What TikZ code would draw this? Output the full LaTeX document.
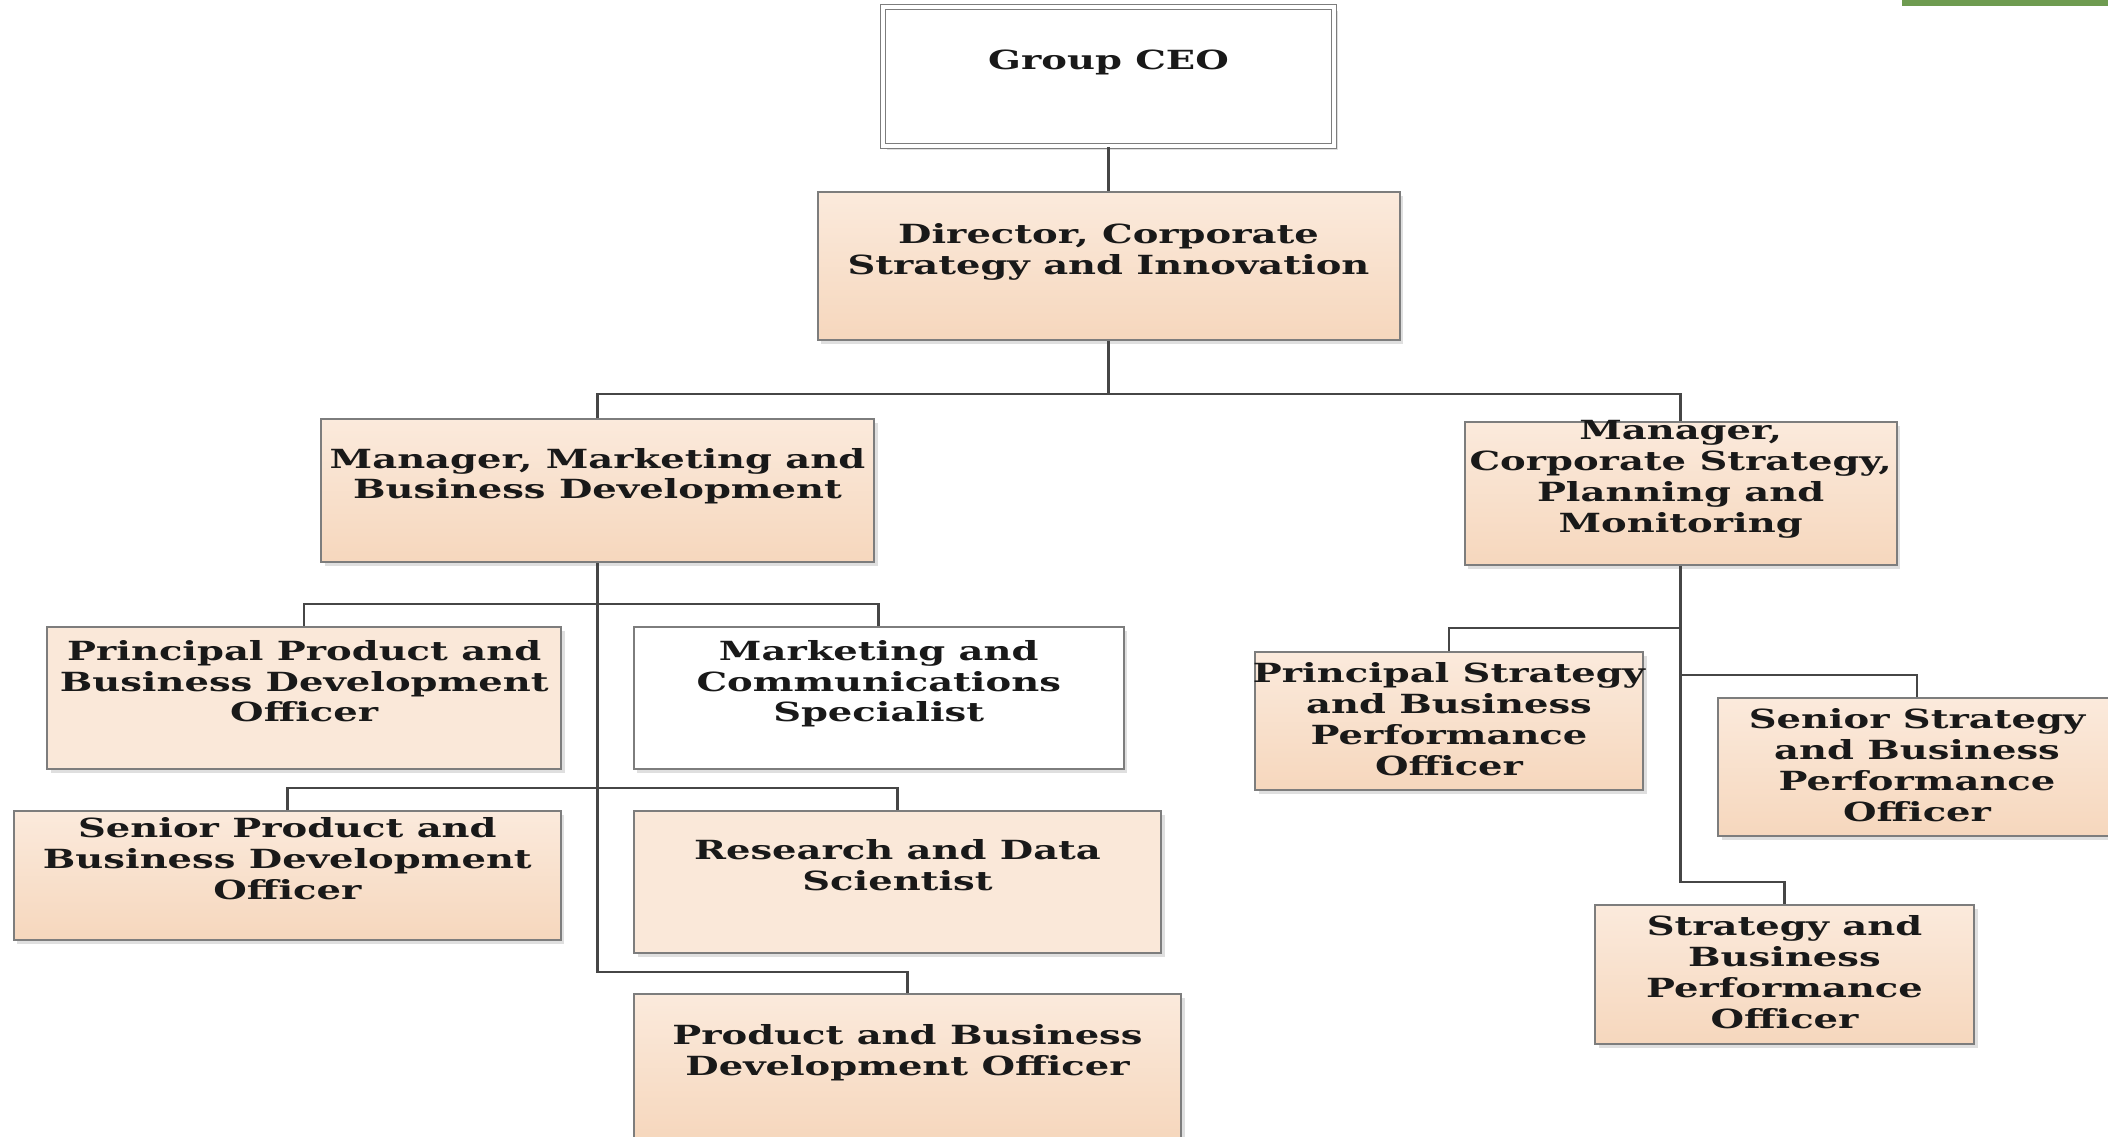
\documentclass[tikz,border=0pt]{standalone}
\usepackage{fontspec}
\newfontfamily\orgfont[FakeStretch=1.46]{DejaVu Serif}
\usetikzlibrary{shadows}
\definecolor{peachtop}{RGB}{251,234,220}
\definecolor{peachbot}{RGB}{246,215,189}
\definecolor{peachflat}{RGB}{250,232,217}
\definecolor{boxline}{RGB}{125,125,125}
\definecolor{linkline}{RGB}{70,70,70}
\definecolor{bargreen}{RGB}{110,155,80}
\tikzset{
  unit/.style={rectangle, draw=boxline, line width=0.2mm, inner sep=0pt,
    drop shadow={shadow xshift=0.35mm, shadow yshift=-0.35mm, opacity=0.25}},
  peach/.style={unit, top color=peachtop, bottom color=peachbot},
  flat/.style={unit, fill=peachflat},
  plain/.style={unit, fill=white},
  lbl/.style={align=center, anchor=center, yshift=1.7mm, text depth=0pt, inner sep=0pt,
    font=\orgfont\bfseries\fontsize{7.5pt}{8.8pt}\selectfont, text=black!90},
  link/.style={draw=linkline, line width=0.25mm},
}
\begin{document}
\begin{tikzpicture}[x=0.1mm,y=-0.1mm]
\useasboundingbox (0,0) rectangle (2108,1136);
\clip (0,0) rectangle (2108,1136);
\fill[bargreen] (1902,0) rectangle (2108,6);
% top of the chart
\node[plain, draw=boxline, line width=0.15mm, double=white, double distance=0.35mm,
  minimum width=45.1mm, minimum height=13.9mm,
  label={[lbl]center:Group CEO}] (ceo) at (1108.5,76.5) {};
\node[peach, minimum width=58.2mm, minimum height=14.8mm,
  label={[lbl]center:{Director, Corporate\\Strategy and Innovation}}] (dir) at (1108.5,266) {};
% managers
\node[peach, minimum width=55.3mm, minimum height=14.3mm,
  label={[lbl]center:{Manager, Marketing and\\Business Development}}] (mbd) at (597.5,490.5) {};
\node[peach, minimum width=43.2mm, minimum height=14.3mm,
  label={[lbl]center:{Manager,\\Corporate Strategy,\\Planning and\\Monitoring}}] (cspm) at (1680.6,493.5) {};
% marketing and business development team
\node[flat, minimum width=51.4mm, minimum height=14.2mm,
  label={[lbl]center:{Principal Product and\\Business Development\\Officer}}] (pp) at (304.2,698) {};
\node[plain, minimum width=49mm, minimum height=14.2mm,
  label={[lbl]center:{Marketing and\\Communications\\Specialist}}] (mc) at (878.7,698) {};
\node[peach, minimum width=54.7mm, minimum height=12.9mm,
  label={[lbl]center:{Senior Product and\\Business Development\\Officer}}] (sp) at (287.4,875.5) {};
\node[flat, minimum width=52.7mm, minimum height=14.2mm,
  label={[lbl]center:{Research and Data\\Scientist}}] (rds) at (897.5,882) {};
\node[peach, minimum width=54.7mm, minimum height=14.6mm,
  label={[lbl]center:{Product and Business\\Development Officer}}] (pbd) at (907.5,1067) {};
% strategy team
\node[peach, minimum width=38.8mm, minimum height=13.8mm,
  label={[lbl,yshift=-1.5mm]center:{Principal Strategy\\and Business\\Performance\\Officer}}] (ps) at (1449,721) {};
\node[peach, minimum width=39.8mm, minimum height=13.8mm,
  label={[lbl,yshift=-1.5mm]center:{Senior Strategy\\and Business\\Performance\\Officer}}] (ss) at (1917,767) {};
\node[peach, minimum width=37.9mm, minimum height=13.9mm,
  label={[lbl,yshift=-1.45mm]center:{Strategy and\\Business\\Performance\\Officer}}] (sbp) at (1784.5,974.5) {};
% connectors
\draw[link] (ceo) -- (dir);
\draw[link] (dir.south) -- (dir.south |- 0,394);
\draw[link] (mbd.north) |- (cspm.north |- 0,394) -- (cspm.north);
\draw[link] (mbd.south) -- (mbd.south |- 0,972) -| (pbd.north);
\draw[link] (pp.north) |- (mc.north |- 0,604) -- (mc.north);
\draw[link] (sp.north) |- (rds.north |- 0,788) -- (rds.north);
\draw[link] (cspm.south) -- (cspm.south |- 0,882) -| (sbp.north);
\draw[link] (ps.north) |- (cspm.south |- 0,628);
\draw[link] (ss.north) |- (cspm.south |- 0,675);
\end{tikzpicture}
\end{document}
